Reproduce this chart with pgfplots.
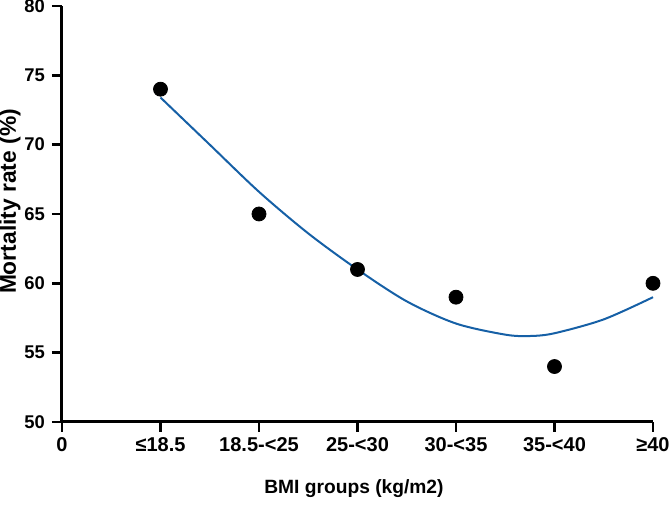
\documentclass[border=0pt]{standalone}
\usepackage{fontspec}
\setmainfont{Liberation Sans}
\usepackage{pgfplots}
\pgfplotsset{compat=1.18}
\definecolor{fitblue}{RGB}{22,96,166}
\begin{document}
\begin{tikzpicture}
\begin{axis}[
  name=ax,
  scale only axis,
  width=295.5pt, height=208pt,
  xmin=0, xmax=6, ymin=50, ymax=80,
  axis x line=bottom, axis y line=left,
  axis line style={line width=1.5pt,-},
  tick style={line width=1.3pt,black},
  tick align=outside,
  major tick length=5pt,
  xtick={0,1,2,3,4,5,6},
  xticklabels={0,≤18.5,18.5-<25,25-<30,30-<35,35-<40,≥40},
  ytick={50,55,60,65,70,75,80},
  /pgf/number format/assume math mode=true,
  xticklabel style={font=\fontsize{10pt}{11pt}\selectfont\bfseries, yshift=1pt},
  yticklabel style={font=\fontsize{9.2pt}{10pt}\selectfont\bfseries},
  xlabel={BMI groups (kg/m2)},
  ylabel={Mortality rate (\%)},
  xlabel style={font=\fontsize{9.6pt}{11pt}\selectfont\bfseries, at={(axis description cs:0.494,-0.161)}, anchor=center},
  ylabel style={font=\fontsize{11.4pt}{12pt}\selectfont\bfseries, at={(axis description cs:-0.088,0.53)}, anchor=center},
  clip=false,
]
\addplot[fitblue, line width=1pt, smooth] coordinates {
  (1.0,73.4) (1.5,70.0) (2.0,66.6) (2.5,63.6) (3.0,61.0) (3.5,58.7)
  (4.0,57.1) (4.5,56.3) (4.75,56.2) (5.0,56.4) (5.5,57.4) (6.0,59.0)
};
\addplot[only marks, mark=*, mark size=3.5pt, black] coordinates {
  (1,74) (2,65) (3,61) (4,59) (5,54) (6,60)
};
\end{axis}
\pgfresetboundingbox
\path ([xshift=-31pt,yshift=-42pt]ax.south west) rectangle ([xshift=8pt,yshift=3pt]ax.north east);
\end{tikzpicture}
\end{document}
